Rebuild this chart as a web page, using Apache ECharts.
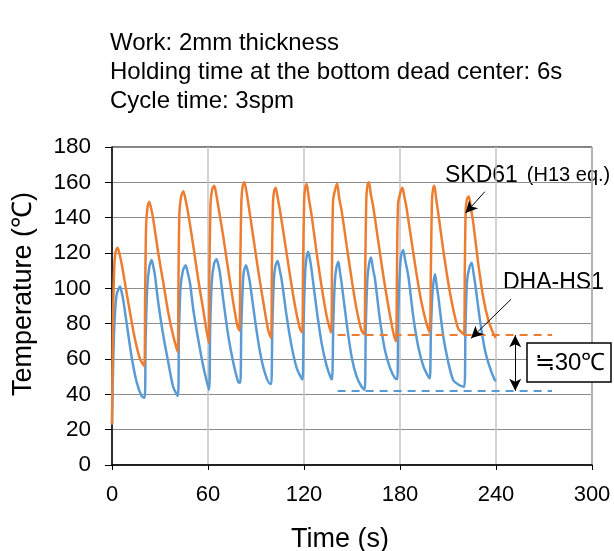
<!DOCTYPE html>
<html>
<head>
<meta charset="utf-8">
<script src="https://cdn.jsdelivr.net/npm/echarts@6/dist/echarts.min.js"></script>
<style>
  html, body { margin: 0; padding: 0; background: #fff; }
  #chart { width: 614px; height: 551px; }
</style>
</head>
<body>
<div id="chart"></div>
<script>
// Die temperature during repeated hot stamping.
var titleLines = [
  'Work: 2mm thickness',
  'Holding time at the bottom dead center: 6s',
  'Cycle time: 3spm'
];
var xTicks = [0, 60, 120, 180, 240, 300];
var yTicks = [0, 20, 40, 60, 80, 100, 120, 140, 160, 180];

// [time s, temperature C]
var skd61 = [
  [0,23],[0.6,80],[1.4,112],[2.3,121],[3.5,123],[4.8,119],[6,114],[8.1,103],[11.3,86],[14.4,71],[17.5,60],[20.2,56],
  [20.7,95],[21.3,135],[22.2,146],[23.3,149],[24.5,145],[25.8,139],[28.9,120],[32.1,103],[35.2,86],[38.3,73],[41,64],
  [41.5,100],[42.1,142],[43.2,152],[44.6,155],[46,150],[47.7,142],[50.8,124],[53.9,105],[57,88],[60.4,69],
  [60.9,110],[61.6,148],[62.6,156],[63.9,158],[65,154],[66.5,146],[69.6,129],[72.7,110],[75.8,92],[78.3,79],[79.6,76],
  [80.2,115],[80.9,150],[81.7,158],[82.7,160],[84,155],[85.2,148],[88.3,129],[91.4,110],[94.6,92],[97.7,76],[99.4,72],
  [99.9,110],[100.6,148],[101.3,155],[102.3,157],[103.6,151],[105,144],[108.1,126],[111.3,107],[114.4,90],[117.5,77],[118.9,75],
  [119.4,112],[120.1,150],[120.8,157],[121.7,159],[123,151],[124.8,141],[127.9,120],[131,101],[134.2,84],[136.9,75],
  [137.5,112],[138.2,150],[139.8,157],[140.8,159],[142,151],[143.5,144],[146.7,124],[149.8,105],[152.9,88],[156,76],[157.7,74],
  [158.3,112],[159,152],[159.8,159],[160.6,160],[161.8,153],[163.3,146],[166.5,126],[169.6,107],[172.7,90],[175.8,75],[177.5,70],
  [178.1,110],[178.8,148],[180.5,155],[181.5,157],[182.7,152],[184,146],[187,128],[190,110],[193,94],[196,82],[198.5,75],
  [199.3,112],[200,150],[200.8,157],[201.5,158],[202.7,150],[204,142],[207,122],[210.2,103],[213.3,88],[216.5,77],[220,74],
  [220.5,110],[221.1,145],[222,151],[223.1,152],[224.4,145],[225.8,137],[228.9,114],[232,95],[235.2,82],[238.3,74.5],[239.8,72]
];
var dhaHs1 = [
  [0,23],[0.8,60],[1.8,85],[3,97],[5,101],[6,98],[7.1,93],[9.2,80],[12.3,61],[15.4,47],[18.5,39],[20.4,38],
  [21,70],[22,100],[23.3,112],[24.8,116],[25.9,112],[26.9,107],[28.9,92],[32.1,73],[35.2,58],[38.3,44],[41.2,39],
  [41.8,72],[42.8,100],[44.3,110],[46,113],[47.3,109],[48.75,103],[50.8,88],[53.9,71],[57,56],[60.6,42.5],
  [61.3,75],[62.3,103],[63.8,114],[65.4,116.5],[66.5,113],[67.5,108.5],[69.6,93],[72.7,73],[75.8,58],[78.9,47],[80.2,46.5],
  [80.8,78],[81.8,103],[82.5,110],[83.8,113],[85,109],[86.25,103],[89.4,82],[92.5,64],[95.6,52],[98.75,46],[99.6,46],
  [100.2,78],[101.2,105],[102.2,113],[103.5,115.5],[104.7,111],[106,105],[109.2,84],[112.3,67],[115.4,55],[118.5,49],[119.2,48.5],
  [119.8,82],[120.8,110],[121.7,118],[122.7,120.7],[123.8,116],[124.8,110],[127.9,88],[131,69],[134.2,56],[136.9,49],[137.6,48.5],
  [138.3,80],[139.3,104],[140.3,112],[141.5,115],[142.5,109],[143.5,103],[146.7,80],[149.8,61],[152.9,50],[156,44.3],[157.9,42.5],
  [158.6,78],[159.6,105],[160.7,114],[161.9,117.5],[163.1,111],[164.4,105],[167.5,82],[170.6,65],[173.75,55],[176.9,49],[178.3,48.5],
  [178.9,85],[179.9,110],[180.8,119],[182,121.7],[183.2,116],[185.2,107],[188.3,84],[191.4,67],[194.6,56],[197.7,50],[198.7,49],
  [199.3,75],[200.2,96],[201,104],[201.9,108],[203,101],[204,95],[207,73],[210.2,58],[213.3,48],[217.5,45],[220.2,44.3],
  [220.9,78],[221.9,104],[223.4,112],[224.8,114.5],[225.9,109],[226.9,103],[230,82],[233.1,65],[236.25,55],[239,48.5],[240,47.5]
];

// steady-state minimum levels and the gap marker
var skdFloor = 73.5;
var dhaFloor = 42;
var floorFrom = 141;
var floorTo = 275;
var gapX = 252;
var skdArrow = [[233, 154.7], [221, 142.6]];
var dhaArrow = [[249.4, 93.8], [224.4, 71.7]];

var ORANGE = '#ED7D31';
var BLUE = '#5B9BD5';
var FONT = '"Liberation Sans", Arial, sans-serif';

var chart = echarts.init(document.getElementById('chart'), null, { renderer: 'canvas' });

function hLine(y, color) {
  return [
    { coord: [floorFrom, y], lineStyle: { color: color, width: 2, type: [8, 6] }, symbol: 'none' },
    { coord: [floorTo, y], symbol: 'none' }
  ];
}
function arrowLine(pair) {
  return [
    { coord: pair[0], lineStyle: { color: '#000', width: 1, type: 'solid' } },
    { coord: pair[1] }
  ];
}

var option = {
  animation: false,
  backgroundColor: '#fff',
  grid: {
    left: 112, top: 147, width: 480, height: 318, outerBoundsMode: 'none',
    show: true, borderColor: '#000', borderWidth: 1
  },
  xAxis: {
    type: 'value', min: xTicks[0], max: xTicks[xTicks.length - 1], interval: 60,
    name: 'Time (s)', nameLocation: 'middle', nameGap: 61,
    nameTextStyle: { fontFamily: FONT, fontSize: 27, color: '#000', padding: [0, 24, 0, 0] },
    axisLine: { show: true, lineStyle: { color: '#000', width: 1.5 } },
    axisTick: { show: true, length: 5, lineStyle: { color: '#000' } },
    axisLabel: { margin: 19, fontFamily: FONT, fontSize: 22, color: '#000' },
    splitLine: { show: true, lineStyle: { color: '#c4c4c4', width: 1.5 } }
  },
  yAxis: {
    type: 'value', min: yTicks[0], max: yTicks[yTicks.length - 1], interval: 20,
    name: 'Temperature (\u2103)', nameLocation: 'middle', nameGap: 75, nameRotate: 90,
    nameTextStyle: { fontFamily: FONT, fontSize: 27, color: '#000', padding: [0, 0, 0, 24] },
    axisLine: { show: true, lineStyle: { color: '#000', width: 1.5 } },
    axisTick: { show: true, length: 7, lineStyle: { color: '#000' } },
    axisLabel: { margin: 21, fontFamily: FONT, fontSize: 22.5, color: '#000' },
    splitLine: { show: true, lineStyle: { color: '#8c8c8c', width: 1 } }
  },
  series: [
    {
      name: 'SKD61', type: 'line', data: skd61, showSymbol: false, smooth: 0.25,
      lineStyle: { color: ORANGE, width: 2.5 }, itemStyle: { color: ORANGE }, z: 3
    },
    {
      name: 'DHA-HS1', type: 'line', data: dhaHs1, showSymbol: false, smooth: 0.25,
      lineStyle: { color: BLUE, width: 2.5 }, itemStyle: { color: BLUE }, z: 2
    },
    {
      name: 'notes', type: 'line', data: [], silent: true, z: 5,
      markLine: {
        silent: true, animation: false, label: { show: false },
        symbol: ['none', 'arrow'], symbolSize: [9, 12],
        emphasis: { disabled: true },
        data: [
          hLine(skdFloor, ORANGE),
          hLine(dhaFloor, BLUE),
          arrowLine(skdArrow),
          arrowLine(dhaArrow),
          [
            { coord: [gapX, (skdFloor + dhaFloor) / 2], lineStyle: { color: '#000', width: 1, type: 'solid' }, symbol: 'none' },
            { coord: [gapX, skdFloor] }
          ],
          [
            { coord: [gapX, (skdFloor + dhaFloor) / 2], lineStyle: { color: '#000', width: 1, type: 'solid' }, symbol: 'none' },
            { coord: [gapX, dhaFloor] }
          ]
        ]
      }
    }
  ],
  graphic: [
    { type: 'text', left: 110, top: 29, style: { text: titleLines.join('\n'), font: '24px ' + FONT, fill: '#000', lineHeight: 29 } },
    { type: 'text', left: 445, top: 164, style: {
      text: '{a|SKD61}{b|(H13 eq.)}', fill: '#000',
      rich: { a: { fontFamily: FONT, fontSize: 23 }, b: { fontFamily: FONT, fontSize: 20, padding: [0, 0, 0, 9] } } } },
    { type: 'text', left: 503, top: 271, style: { text: 'DHA-HS1', font: '23px ' + FONT, fill: '#000' } },
    { type: 'rect', shape: { x: 527, y: 343, width: 84, height: 39 }, style: { fill: '#fff', stroke: '#000', lineWidth: 1.5 }, z: 10 },
    { type: 'text', x: 570, y: 363, z: 11, style: { text: '\u225230\u2103', font: '24px ' + FONT, fill: '#000', align: 'center', verticalAlign: 'middle' } }
  ]
};

chart.setOption(option);
</script>
</body>
</html>
